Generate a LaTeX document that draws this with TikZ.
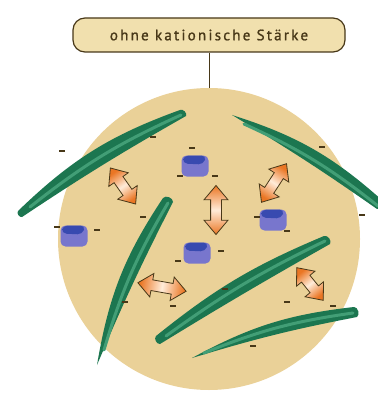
\documentclass[tikz,border=0pt]{standalone}
\usepackage{fontspec}
\setmainfont{PT Sans}
\newfontfamily\etikettfont[LetterSpace=15, FakeBold=1.2]{PT Sans}
\usetikzlibrary{shapes.arrows}

\definecolor{sand}{RGB}{234,209,152}
\definecolor{etikettfarbe}{RGB}{241,224,174}
\definecolor{braun}{RGB}{72,56,24}
\definecolor{fasergruen}{RGB}{28,118,80}
\definecolor{faserhell}{RGB}{66,158,118}
\definecolor{teilchenhell}{RGB}{120,118,205}
\definecolor{teilchendunkel}{RGB}{56,74,176}
\definecolor{pfeilorange}{RGB}{234,118,36}

\begin{document}
\begin{tikzpicture}[x=1pt,y=-1pt]
	\tikzstyle{etikett} = [draw=braun, line width=1.2pt, fill=etikettfarbe, rounded corners=12pt, minimum width=272pt, minimum height=34pt, text=braun, font=\etikettfont\fontsize{15}{17}\selectfont]
	\tikzstyle{faser} = [fill=fasergruen]
	\tikzstyle{streifen} = [draw=faserhell, line width=3pt, line cap=round]
	\tikzstyle{teilchen} = [rectangle, rounded corners=5pt, fill=teilchenhell, minimum width=27pt, minimum height=21pt, inner sep=0,
		path picture={\fill[teilchendunkel] ([xshift=2pt]path picture bounding box.north west) -- ([xshift=-2pt]path picture bounding box.north east) -- ([xshift=-5pt,yshift=-9pt]path picture bounding box.north east) -- ([xshift=1pt,yshift=-8pt]path picture bounding box.north west) -- cycle;}]
	\tikzstyle{pfeil} = [double arrow, draw=braun, thick, left color=pfeilorange, right color=pfeilorange, middle color=white!85!orange, minimum width=23pt, double arrow head extend=6.5pt, double arrow tip angle=80, inner xsep=0, inner ysep=5pt]
	\tikzstyle{minus} = [fill=braun]

	\useasboundingbox (0,0) rectangle (377,398);

	\node [etikett] (titel) at (209,35) {ohne kationische Stärke};
	\node [circle, fill=sand, minimum size=302pt, inner sep=0] (kreis) at (209,239) {};
	\draw [braun, line width=1pt] (titel) -- (kreis);

	% Fasern
	\fill [faser] (18,211) to[bend left=12] (180,110) to[bend left=70] (186,116) to[bend right=2] (22,217) to[bend left=70] (18,211);
	\fill [faser] (232,115) to[bend left=12] (383,201) to[bend left=70] (377,209) to[bend right=2] (232,115);
	\fill [faser] (97,365) to[bend left=12] (163,198) to[bend left=70] (173,202) to[bend right=2] (97,365);
	\fill [faser] (156,336) to[bend left=8] (324,236) to[bend left=70] (330,244) to[bend right=1] (160,344) to[bend left=70] (156,336);
	\fill [faser] (192,358) to[bend left=11] (354,307) to[bend left=70] (357,317) to[bend right=3] (192,358);

	\draw [streifen] (30,207) to[bend left=7] (181,115);
	\draw [streifen] (244,124) to[bend left=7] (378,206);
	\draw [streifen] (104,350) to[bend left=7] (168,203);
	\draw [streifen] (166,336) to[bend left=5] (325,241);
	\draw [streifen] (204,353) to[bend left=7] (353,313);

	% Teilchen
	\node [teilchen] (t1) at (74,236) {};
	\node [teilchen] (t2) at (195,166) {};
	\node [teilchen] (t3) at (273,220) {};
	\node [teilchen] (t4) at (197,253) {};

	% Pfeile
	\node [pfeil, minimum height=44pt, rotate=-55, shading angle=35] (a1) at (123,186) {};
	\node [pfeil, minimum height=49pt, rotate=90, shading angle=180] (a2) at (216,210) {};
	\node [pfeil, minimum height=46pt, rotate=57, shading angle=147] (a3) at (274,183) {};
	\node [pfeil, minimum height=49pt, rotate=-10, shading angle=80] (a4) at (162,287) {};
	\node [pfeil, minimum height=42pt, rotate=-51, shading angle=39] (a5) at (310,284) {};

	% Ladungen
	\foreach \x/\y in {62/151, 153/137, 192/148, 180/176, 215/176, 322/147, 257/217, 287/231, 362/215, 57/227,
		97/230, 143/217, 178/261, 221/251, 125/302, 173/306, 225/289, 287/302, 333/306, 253/346}
		\fill [minus] (\x-3,\y-1.2) rectangle (\x+3,\y+1.2);
\end{tikzpicture}
\end{document}
